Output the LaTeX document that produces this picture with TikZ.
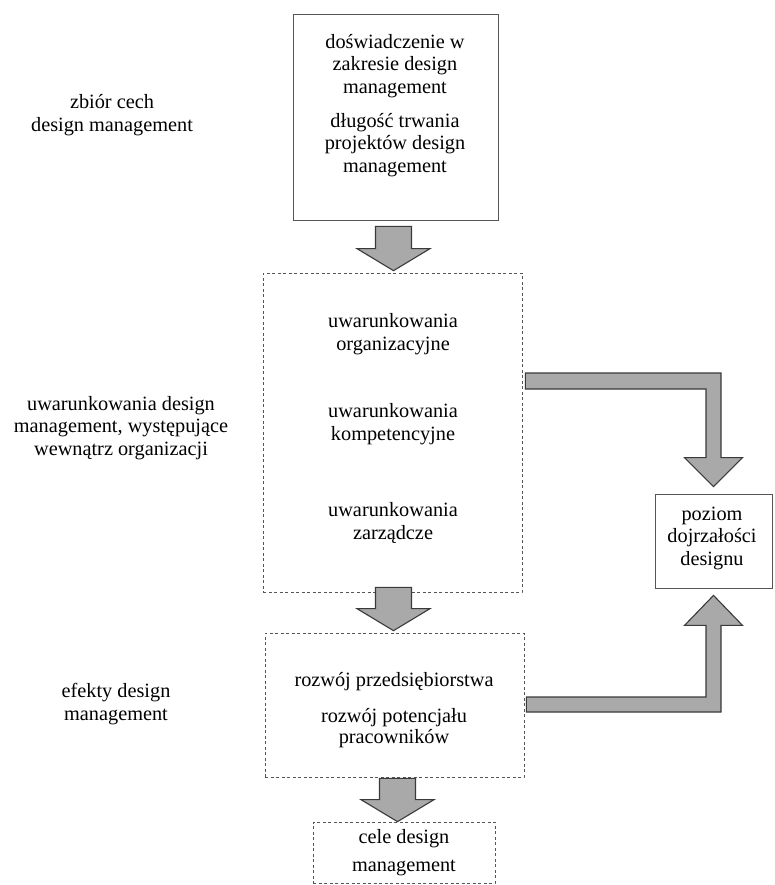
\documentclass[tikz,border=0pt]{standalone}
\usepackage{fontspec}
\setmainfont{Liberation Serif}
\usetikzlibrary{calc}

\definecolor{arrowfill}{HTML}{A9A9A9}
\definecolor{arrowline}{HTML}{3A3A3A}
\definecolor{boxline}{HTML}{555555}

\tikzset{
  solidbox/.style={draw=boxline, line width=0.8pt, inner sep=0pt},
  dashbox/.style={draw=boxline, line width=0.7pt, dash pattern=on 3pt off 2.5pt, inner sep=0pt},
  txt/.style={align=center, inner sep=0pt, font=\fontsize{20.3}{22.5}\selectfont},
  blockarrow/.style={draw=arrowline, fill=arrowfill, line width=1.1pt, line join=miter},
}

% straight downward block arrow: #1 = centre of the shaft top, #2 = tip
\newcommand\blockdown[2]{%
  \draw[blockarrow] ($(#1)+(-18,0)$) -- ($(#1)+(18,0)$) -- ($(#2)+(18,-22)$)
    -- ($(#2)+(36.5,-22)$) -- (#2) -- ($(#2)+(-36.5,-22)$) -- ($(#2)+(-18,-22)$) -- cycle;}

\begin{document}
\begin{tikzpicture}[x=1pt, y=-1pt]
  \path[use as bounding box] (0,0) rectangle (775,885);

  % boxes
  \node[solidbox, minimum width=205pt, minimum height=206pt] (top) at (395.5,117) {};
  \node[dashbox, minimum width=259pt, minimum height=319pt] (mid) at (392.5,432.5) {};
  \node[dashbox, minimum width=259pt, minimum height=144pt] (low) at (394.5,705) {};
  \node[dashbox, minimum width=182pt, minimum height=61pt] (bot) at (404,852.5) {};
  \node[solidbox, minimum width=117pt, minimum height=94pt] (lvl) at (713.5,541) {};

  % texts inside the boxes
  \node[txt] (t1) at (395,66) {doświadczenie w\\zakresie design\\management};
  \node[txt] (t2) at (395,145) {długość trwania\\projektów design\\management};
  \node[txt] (m1) at (393,334) {uwarunkowania\\organizacyjne};
  \node[txt] (m2) at (393,424) {uwarunkowania\\kompetencyjne};
  \node[txt] (m3) at (393,523) {uwarunkowania\\zarządcze};
  \node[txt] (l1) at (394,682) {rozwój przedsiębiorstwa};
  \node[txt, font=\fontsize{20.3}{21}\selectfont] (l2) at (394,728) {rozwój potencjału\\pracowników};
  \node[txt, font=\fontsize{20.3}{28}\selectfont] (b1) at (404,853) {cele design\\management};
  \node[txt] (r1) at (712,538) {poziom\\dojrzałości\\designu};

  % side labels
  \node[txt] (s1) at (112,115) {zbiór cech\\design management};
  \node[txt] (s2) at (121,428) {uwarunkowania design\\management, występujące\\wewnątrz organizacji};
  \node[txt] (s3) at (116,704) {efekty design\\management};

  % vertical block arrows between the boxes
  \coordinate (a1s) at ($(top.south)+(-2,6)$);
  \coordinate (a1t) at ($(a1s |- mid.north)+(0,-2)$);
  \blockdown{a1s}{a1t}
  \coordinate (a2s) at ($(mid.south)+(1,-5)$);
  \coordinate (a2t) at ($(a2s |- low.north)+(0,-2)$);
  \blockdown{a2s}{a2t}
  \coordinate (a3s) at ($(low.south)+(3,1)$);
  \coordinate (a3t) at (a3s |- bot.north);
  \blockdown{a3s}{a3t}

  % elbow arrow from the conditions box down to the maturity box
  \coordinate (e1) at ($(mid.east)+(3,-59.5)$);
  \coordinate (e1c) at (lvl.north |- e1);
  \draw[blockarrow] (e1) -- ($(e1c)+(7.5,0)$) -- ($(lvl.north)+(7.5,-36)$)
    -- ($(lvl.north)+(29,-36)$) -- ($(lvl.north)+(0,-7)$) -- ($(lvl.north)+(-29,-36)$)
    -- ($(lvl.north)+(-7.5,-36)$) -- ($(e1c)+(-7.5,16)$) -- ($(e1)+(0,16)$) -- cycle;

  % elbow arrow from the effects box up to the maturity box
  \coordinate (e2) at ($(low.east)+(2,-8)$);
  \coordinate (e2c) at (lvl.south |- e2);
  \draw[blockarrow] ($(e2)+(0,15)$) -- ($(e2c)+(7.5,15)$) -- ($(lvl.south)+(7.5,37)$)
    -- ($(lvl.south)+(29,37)$) -- ($(lvl.south)+(0,7)$) -- ($(lvl.south)+(-29,37)$)
    -- ($(lvl.south)+(-7.5,37)$) -- ($(e2c)+(-7.5,0)$) -- (e2) -- cycle;
\end{tikzpicture}
\end{document}
